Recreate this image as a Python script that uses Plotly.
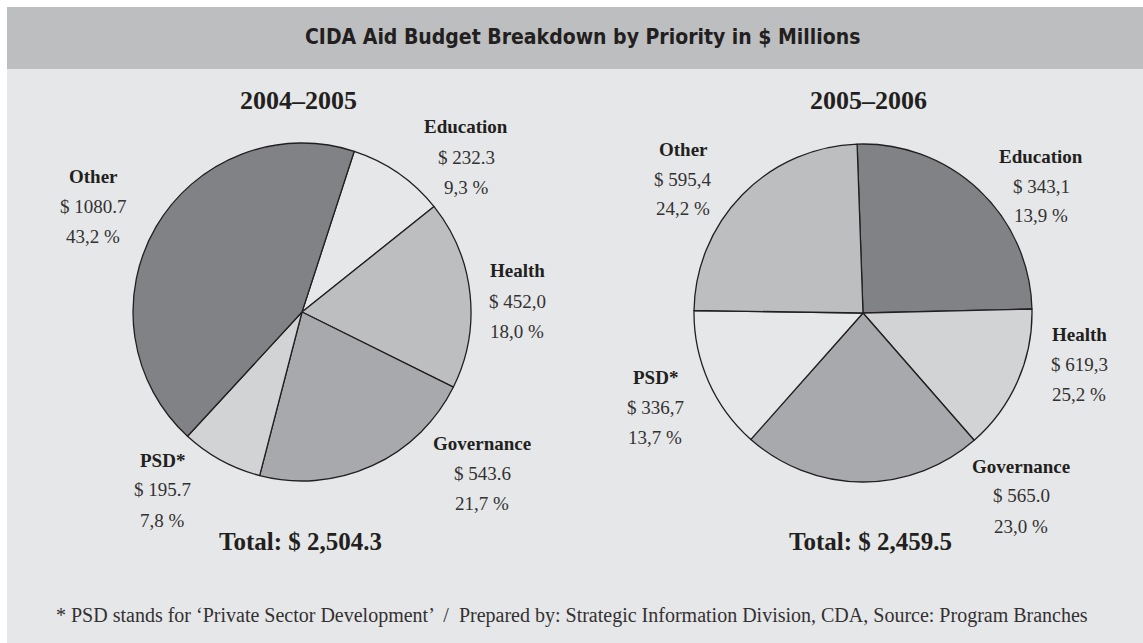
import plotly.graph_objects as go

W, H = 1143, 643

# ---------------- data ----------------
title_text = "CIDA Aid Budget Breakdown by Priority in $ Millions"
footer_text = "* PSD stands for \u2018Private Sector Development\u2019  /  Prepared by: Strategic Information Division, CDA, Source: Program Branches"

year_0405 = "2004\u20132005"
cats_0405 = ["Education", "Health", "Governance", "PSD*", "Other"]
vals_0405 = [232.3, 452.0, 543.6, 195.7, 1080.7]
amt_0405 = ["$ 232.3", "$ 452,0", "$ 543.6", "$ 195.7", "$ 1080.7"]
pct_0405 = ["9,3 %", "18,0 %", "21,7 %", "7,8 %", "43,2 %"]
total_0405 = "Total: $ 2,504.3"

year_0506 = "2005\u20132006"
cats_0506 = ["Education", "Health", "Governance", "PSD*", "Other"]
vals_0506 = [343.1, 619.3, 565.0, 336.7, 595.4]
amt_0506 = ["$ 343,1", "$ 619,3", "$ 565.0", "$ 336,7", "$ 595,4"]
pct_0506 = ["13,9 %", "25,2 %", "23,0 %", "13,7 %", "24,2 %"]
total_0506 = "Total: $ 2,459.5"

# ---------------- style / layout ----------------
C_DARK, C_MID, C_LIGHT, C_VLIGHT, C_BG = "#808285", "#a7a9ac", "#bcbec0", "#d1d3d4", "#e6e7e8"
colors_0405 = {"Education": C_BG, "Health": C_LIGHT, "Governance": C_MID, "PSD*": C_VLIGHT, "Other": C_DARK}
# clockwise slice order from 12 o'clock as drawn in the reference
order_0506 = ["Health", "Education", "Governance", "PSD*", "Other"]
colors_0506 = {"Health": C_DARK, "Education": C_VLIGHT, "Governance": C_MID, "PSD*": C_BG, "Other": C_LIGHT}

SERIF = "Liberation Serif, Times New Roman, serif"
SANS_COND = "DejaVu Sans Condensed, Liberation Sans Narrow, Roboto, sans-serif"
INK = "#231f20"


def px(x):
    return x / W


def py(y):
    return 1 - y / H


def dom(cx, cy, r):
    return dict(x=[px(cx - r), px(cx + r)], y=[py(cy + r), py(cy - r)])


fig = go.Figure()

fig.add_trace(go.Pie(
    labels=cats_0405, values=vals_0405, sort=False, direction="clockwise", rotation=18,
    marker=dict(colors=[colors_0405[c] for c in cats_0405], line=dict(color=INK, width=1.3)),
    textinfo="none", showlegend=False, domain=dom(302, 312, 169), name=year_0405,
))

idx = [cats_0506.index(c) for c in order_0506]
fig.add_trace(go.Pie(
    labels=[cats_0506[i] for i in idx], values=[vals_0506[i] for i in idx], sort=False,
    direction="clockwise", rotation=-2,
    marker=dict(colors=[colors_0506[c] for c in order_0506], line=dict(color=INK, width=1.3)),
    textinfo="none", showlegend=False, domain=dom(863, 313, 169), name=year_0506,
))

shapes = [
    dict(type="rect", xref="paper", yref="paper", x0=px(7), x1=1, y0=0, y1=py(7),
         fillcolor=C_BG, line=dict(width=0), layer="below"),
    dict(type="rect", xref="paper", yref="paper", x0=px(7), x1=1, y0=py(69), y1=py(7),
         fillcolor=C_LIGHT, line=dict(width=0), layer="below"),
]

ann = []


def text(x, y, s, size, bold=False, family=SERIF, color=INK):
    ann.append(dict(x=px(x), y=py(y), xref="paper", yref="paper", xanchor="center", yanchor="middle",
                    text=f"<b>{s}</b>" if bold else s, showarrow=False,
                    font=dict(family=family, size=size, color=color)))


text(582, 37, title_text, 21, bold=True, family=SANS_COND)
text(298, 101, year_0405, 26, bold=True)
text(868, 101, year_0506, 26, bold=True)

pos_0405 = {"Education": (466, 127), "Health": (517, 271), "Governance": (482, 443),
            "PSD*": (162, 460), "Other": (93, 176)}
pos_0506 = {"Education": (1041, 156), "Health": (1079, 334), "Governance": (1021, 466),
            "PSD*": (655, 377), "Other": (683, 149)}
LS = 30
for cats, amts, pcts, pos in ((cats_0405, amt_0405, pct_0405, pos_0405),
                              (cats_0506, amt_0506, pct_0506, pos_0506)):
    for c, a, p in zip(cats, amts, pcts):
        x, y = pos[c]
        text(x, y, c, 19, bold=True)
        text(x, y + LS, a, 19, color="#333132")
        text(x, y + 2 * LS, p, 19, color="#333132")

text(300, 541, total_0405, 25, bold=True)
text(870, 541, total_0506, 25, bold=True)
text(572, 615, footer_text, 20, color="#333132")

fig.update_layout(
    width=W, height=H, margin=dict(l=0, r=0, t=0, b=0),
    paper_bgcolor="#ffffff", plot_bgcolor="#ffffff",
    shapes=shapes, annotations=ann,
)

fig.write_html("out.html")
